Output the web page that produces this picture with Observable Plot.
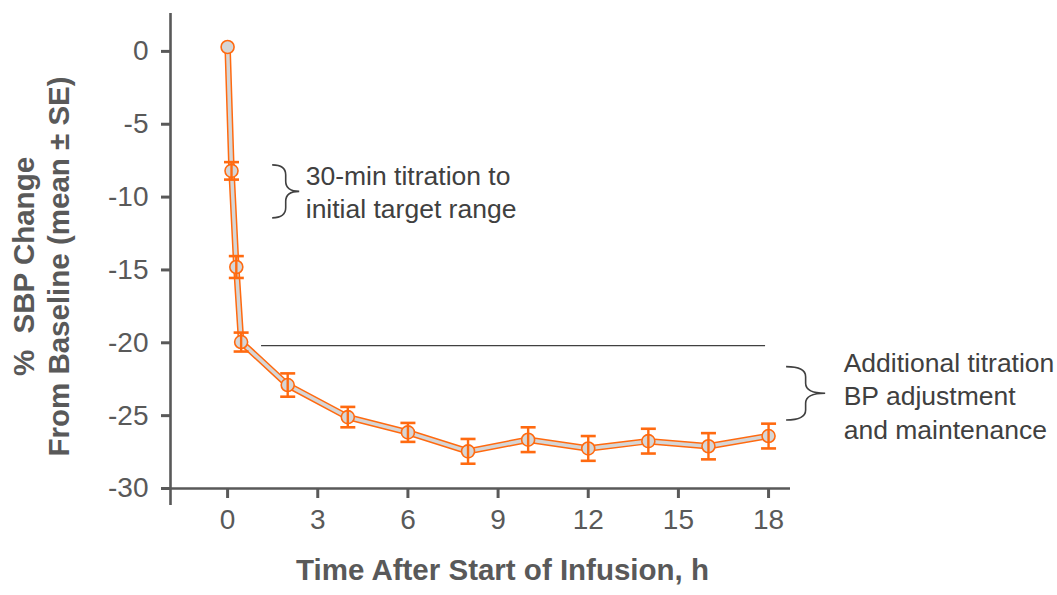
<!DOCTYPE html>
<html><head><meta charset="utf-8">
<script src="https://cdn.jsdelivr.net/npm/d3@7"></script>
<script src="https://cdn.jsdelivr.net/npm/@observablehq/plot@0.6"></script>
<style>body{margin:0;background:#fff;}</style>
</head><body><div id="chart"></div>
<script>
// Data
const hours      = [0, 0.13, 0.29, 0.45, 2, 4, 6, 8, 10, 12, 14, 16, 18];
const meanChange = [0.3, -8.2, -14.8, -19.95, -22.9, -25.1, -26.15, -27.45, -26.65, -27.25, -26.75, -27.1, -26.4];
const stdErr     = [0, 0.6, 0.75, 0.65, 0.8, 0.7, 0.65, 0.85, 0.85, 0.85, 0.85, 0.9, 0.85];
const xTicks = [0, 3, 6, 9, 12, 15, 18];
const yTicks = [0, -5, -10, -15, -20, -25, -30];
const xLabel = "Time After Start of Infusion, h";
const yLabel = "%\u00a0 SBP Change\nFrom Baseline (mean ± SE)";
const noteTexts = ["30-min titration to\ninitial target range", "Additional titration\nBP adjustment\nand maintenance"];
const noteX = [2.6, 20.5];
const noteY = [-9.55, -23.55];
// brace annotations (data coordinates): left ends, tip, top, bottom
const braceX0 = [1.5, 18.6];
const braceTip = [2.4, 19.9];
const braceTop = [-7.82, -21.67];
const braceBot = [-11.46, -25.33];
const refLineY = -20.2, refLineX1 = 1.13, refLineX2 = 17.9;

const data = hours.map((h, i) => ({h, m: meanChange[i], lo: meanChange[i] - stdErr[i], hi: meanChange[i] + stdErr[i], se: stdErr[i]}));
const bars = data.filter(d => d.se > 0);
const notes = noteTexts.map((t, i) => ({t, x: noteX[i], y: noteY[i]}));

const orange = "#ff6a10";
const grey = "#d6d6d6";
const axisColor = "#595959";

const capSymbol = {draw(ctx, size) { const w = Math.sqrt(size / Math.PI); ctx.moveTo(-w, 0); ctx.lineTo(w, 0); }};

function braceMark(index, scales) {
  const g = d3.create("svg:g").attr("fill", "none").attr("stroke", "#404040").attr("stroke-width", 1.6);
  for (let i = 0; i < braceX0.length; i++) {
    const x0 = scales.x(braceX0[i]), xt = scales.x(braceTip[i]);
    const yt = scales.y(braceTop[i]), yb = scales.y(braceBot[i]);
    const xs = x0 + (xt - x0) * 0.5, ym = (yt + yb) / 2, r = Math.min(10, (yb - yt) / 5);
    const p = d3.path();
    p.moveTo(x0, yt);
    p.quadraticCurveTo(xs, yt, xs, yt + r);
    p.lineTo(xs, ym - r);
    p.quadraticCurveTo(xs, ym, xt, ym);
    p.quadraticCurveTo(xs, ym, xs, ym + r);
    p.lineTo(xs, yb - r);
    p.quadraticCurveTo(xs, yb, x0, yb);
    g.append("path").attr("d", p.toString());
  }
  return g.node();
}

const chart = Plot.plot({
  width: 1057, height: 595,
  marginLeft: 170, marginRight: 267, marginTop: 13, marginBottom: 107,
  style: {fontFamily: "'Liberation Sans', Arial, sans-serif", background: "#fff"},
  x: {domain: [-1.9, 18.73]},
  y: {domain: [-30, 2.6]},
  marks: [
    Plot.ruleX([-1.9], {y1: -31.17, y2: 2.6, stroke: axisColor, strokeWidth: 2.6}),
    Plot.ruleY([-30], {x1: -1.9, x2: 18.73, stroke: axisColor, strokeWidth: 2.6}),
    Plot.axisY({ticks: yTicks, tickFormat: d => String(d), tickSize: 9, tickPadding: 13, fontSize: 28, color: axisColor, strokeWidth: 3, label: null}),
    Plot.axisX({ticks: xTicks, tickFormat: d => String(d), tickSize: 10, tickPadding: 11, fontSize: 28, color: axisColor, strokeWidth: 3, label: null}),
    Plot.ruleY([refLineY], {x1: refLineX1, x2: refLineX2, stroke: "#404040", strokeWidth: 1.2}),
    Plot.line(data, {x: "h", y: "m", stroke: orange, strokeWidth: 6.5}),
    Plot.line(data, {x: "h", y: "m", stroke: grey, strokeWidth: 3.5}),
    Plot.dot(data, {x: "h", y: "m", r: 6.5, fill: grey, stroke: orange, strokeWidth: 1.6}),
    Plot.ruleX(bars, {x: "h", y1: "lo", y2: "hi", stroke: orange, strokeWidth: 2.4}),
    Plot.dot(bars, {x: "h", y: "lo", symbol: capSymbol, r: 7.5, stroke: orange, strokeWidth: 2.6}),
    Plot.dot(bars, {x: "h", y: "hi", symbol: capSymbol, r: 7.5, stroke: orange, strokeWidth: 2.6}),
    Plot.text(notes, {x: "x", y: "y", text: "t", textAnchor: "start", fontSize: 26.5, lineHeight: 1.26, fill: "#404040"}),
    braceMark,
    Plot.text([xLabel], {frameAnchor: "bottom", dx: 22, dy: 91, fontSize: 29.5, fontWeight: "bold", fill: axisColor}),
    Plot.text([yLabel], {frameAnchor: "left", textAnchor: "middle", lineAnchor: "middle", dx: -130, dy: 15.5, rotate: -90, fontSize: 29.5, fontWeight: "bold", lineHeight: 1.17, fill: axisColor})
  ]
});
document.getElementById("chart").appendChild(chart);
</script>
</body></html>
